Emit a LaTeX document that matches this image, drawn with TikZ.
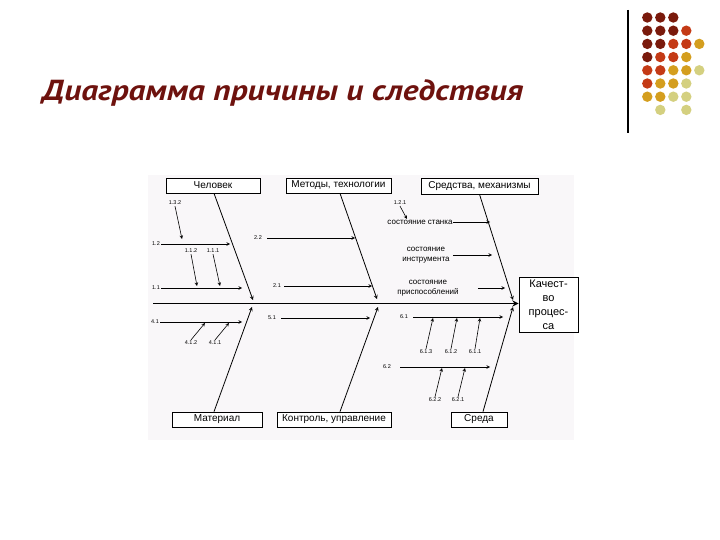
\documentclass[tikz,border=0pt]{standalone}
\usepackage{fontspec}
\usepackage{graphicx}
\setmainfont{Liberation Sans}
\newfontfamily\titlefont{PT Sans}
\definecolor{titlered}{RGB}{110,18,14}
\definecolor{diagbg}{RGB}{249,247,249}
\definecolor{dotA}{RGB}{122,26,12}
\definecolor{dotB}{RGB}{196,58,22}
\definecolor{dotC}{RGB}{212,158,30}
\definecolor{dotD}{RGB}{212,208,128}
\tikzset{
  cause/.style={draw,line width=0.7pt,fill=white,inner sep=0pt,
    font=\fontsize{10}{12}\selectfont},
  effect/.style={draw,line width=0.8pt,fill=white,inner sep=0pt,align=center,
    minimum width=59pt,minimum height=55pt,font=\fontsize{11}{14}\selectfont},
  num/.style={inner sep=1pt,font=\fontsize{5.5}{6}\selectfont},
  txt/.style={inner sep=1pt,align=center,font=\fontsize{8}{9.5}\selectfont},
  bone/.style={line width=0.8pt,-stealth},
  sub/.style={line width=0.6pt,-stealth},
}
\begin{document}
\begin{tikzpicture}[x=1pt,y=-1pt]
		\useasboundingbox (0,0) rectangle (720,540);
		% title and slide decoration
		\node[anchor=base west,inner sep=0pt,text=titlered,
		  font=\titlefont\bfseries\itshape\fontsize{29}{32}\selectfont]
		  (title) at (42,101) {\scalebox{1.15}[1]{Диаграмма причины и следствия}};
		\coordinate (L1) at (628,10);
		\coordinate (L2) at (628,133);
		\draw[line width=1.2pt] (L1)--(L2);
		\foreach \c/\r/\col in {1/1/dotA,2/1/dotA,3/1/dotA,
		    1/2/dotA,2/2/dotA,3/2/dotA,4/2/dotB,
		    1/3/dotA,2/3/dotA,3/3/dotB,4/3/dotB,5/3/dotC,
		    1/4/dotA,2/4/dotB,3/4/dotB,4/4/dotC,
		    1/5/dotB,2/5/dotB,3/5/dotC,4/5/dotC,5/5/dotD,
		    1/6/dotB,2/6/dotC,3/6/dotC,4/6/dotD,
		    1/7/dotC,2/7/dotC,3/7/dotD,4/7/dotD,
		    2/8/dotD,4/8/dotD}
		  \fill[\col] (634.3+13*\c,4.3+13.2*\r) circle (5.2);
		% diagram
		\fill[diagbg] (148,175) rectangle (574,440);
		\node[cause,minimum width=94pt,minimum height=15pt] (man) at (213,185.5) {Человек};
		\node[cause,minimum width=105pt,minimum height=15pt] (meth) at (338.5,185.5) {Методы, технологии};
		\node[cause,minimum width=117pt,minimum height=16pt] (mech) at (479.5,186) {Средства, механизмы};
		\node[cause,minimum width=90pt,minimum height=15pt] (mat) at (217,419.5) {Материал};
		\node[cause,minimum width=114pt,minimum height=15pt] (ctrl) at (334,419.5) {Контроль, управление};
		\node[cause,minimum width=56pt,minimum height=15pt] (env) at (479,419.5) {Среда};
		\node[effect] (qual) at (548.5,304.5) {Качест-\\во\\процес-\\са};
		\coordinate (S) at (153,303.5);
		\draw[line width=1.8pt,-stealth] (S)--(qual.west|-S);
		\coordinate (B1) at (253,300);
		\coordinate (B2) at (377,299);
		\coordinate (B3) at (513,300);
		\coordinate (B4) at (252,307);
		\coordinate (B5) at (378,307);
		\coordinate (B6) at (513,307);
		\draw[bone] ([xshift=1pt]man.south)--(B1);
		\draw[bone] ([xshift=1.5pt]meth.south)--(B2);
		\draw[bone] (mech.south)--(B3);
		\draw[bone] ([xshift=-3pt]mat.north)--(B4);
		\draw[bone] ([xshift=6pt]ctrl.north)--(B5);
		\draw[bone] ([xshift=4pt]env.north)--(B6);
		% upper left
		\node[num] (n132) at (175,203) {1.3.2};
		\node[num] (n12) at (156,244) {1.2};
		\node[num] (n112) at (191,251) {1.1.2};
		\node[num] (n111) at (213,251) {1.1.1};
		\node[num] (n11) at (156,288) {1.1};
		\draw[sub] (n12.east)--(230,244);
		\draw[sub] (n132.south)--(182,239);
		\draw[sub] (n11.east)--(242,288);
		\draw[sub] (n112.south)--(197,286);
		\draw[sub] (n111.south)--(220,286);
		% upper middle
		\node[num] (n22) at (258,238) {2.2};
		\node[num] (n21) at (277,286) {2.1};
		\draw[sub] ([xshift=4pt]n22.east)--(355,238);
		\draw[sub] ([xshift=2pt]n21.east)--(372,286);
		% upper right
		\node[num] (n121) at (400,203) {1.2.1};
		\node[txt,inner sep=0pt] (stanok) at (420,222) {состояние станка};
		\node[txt] (instr) at (426,255) {состояние\\инструмента};
		\node[txt] (prisp) at (428,288) {состояние\\приспособлений};
		\draw[sub] (n121.south)--(407,219);
		\draw[sub] (stanok.east)--(490,222);
		\draw[sub] ([xshift=2pt]instr.east)--(492,255);
		\draw[sub] ([xshift=18pt]prisp.east)--(505,288);
		% lower left
		\node[num] (n41) at (155,322) {4.1};
		\node[num] (n412) at (191,343) {4.1.2};
		\node[num] (n411) at (215,343) {4.1.1};
		\draw[sub] (n41.east)--(242,322);
		\draw[sub] (n412.north)--(205,323);
		\draw[sub] (n411.north)--(229,323);
		% lower middle
		\node[num] (n51) at (272,318) {5.1};
		\draw[sub] ([xshift=4pt]n51.east)--(370,318);
		% lower right
		\node[num] (n61) at (404,317) {6.1};
		\node[num] (n613) at (426,352) {6.1.3};
		\node[num] (n612) at (451,352) {6.1.2};
		\node[num] (n611) at (475,352) {6.1.1};
		\node[num] (n62) at (387,367) {6.2};
		\node[num] (n622) at (435,400) {6.2.2};
		\node[num] (n621) at (458,400) {6.2.1};
		\draw[sub] ([xshift=4pt]n61.east)--(503,317);
		\draw[sub] (n613.north)--(433,318);
		\draw[sub] (n612.north)--(457,318);
		\draw[sub] (n611.north)--(480,318);
		\draw[sub] ([xshift=8pt]n62.east)--(490,367);
		\draw[sub] (n622.north)--(442,368);
		\draw[sub] (n621.north)--(465,368);
\end{tikzpicture}
\end{document}
